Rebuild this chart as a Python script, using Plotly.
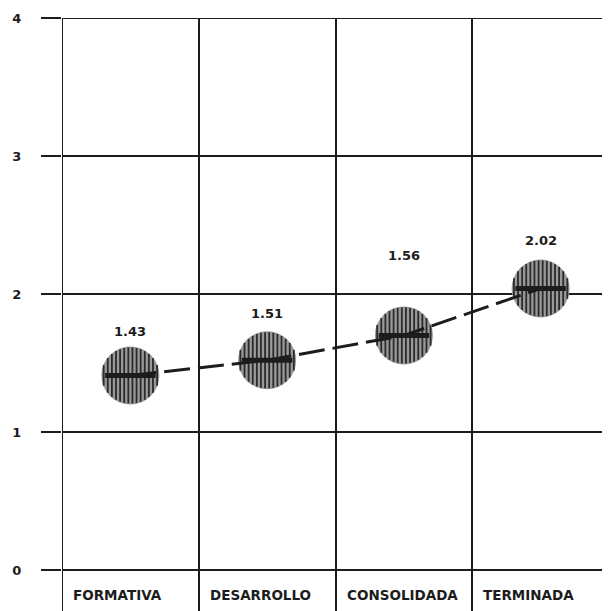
import numpy as np
import plotly.graph_objects as go

categories = ["FORMATIVA", "DESARROLLO", "CONSOLIDADA", "TERMINADA"]
values = [1.41, 1.52, 1.70, 2.04]
value_labels = ["1.43", "1.51", "1.56", "2.02"]
label_shift_px = [44, 47, 80, 48]
y_ticks = [0, 1, 2, 3, 4]

x_pos = [i + 0.5 for i in range(len(categories))]

INK = "#1c1c1c"
FONT = "DejaVu Sans"
radius = 0.21  # data units (~29 px)

fig = go.Figure()

# filled discs
fig.add_trace(go.Scatter(
    x=x_pos, y=values, mode="markers",
    marker=dict(symbol="circle", size=58, color="#999999", line=dict(width=0)),
    hoverinfo="skip", showlegend=False))

# vertical hatching inside discs
hx, hy = [], []
offsets = np.linspace(-radius * 0.93, radius * 0.93, 14)
for cx, cy in zip(x_pos, values):
    for dx in offsets:
        h = np.sqrt(max(radius ** 2 - dx ** 2, 0)) * 0.97
        hx += [cx + dx, cx + dx, None]
        hy += [cy - h, cy + h, None]
fig.add_trace(go.Scatter(
    x=hx, y=hy, mode="lines", line=dict(color="#2a2a2a", width=1.8),
    hoverinfo="skip", showlegend=False))

# dashed connecting line
fig.add_trace(go.Scatter(
    x=x_pos, y=values, mode="lines",
    line=dict(color=INK, width=3, dash="26px,8px"),
    hoverinfo="skip", showlegend=False))

# thick stroke through each disc
fig.add_trace(go.Scatter(
    x=x_pos, y=values, mode="markers",
    marker=dict(symbol="line-ew", size=36, line=dict(color=INK, width=5)),
    hoverinfo="skip", showlegend=False))

# value labels
for cx, cy, txt, sh in zip(x_pos, values, value_labels, label_shift_px):
    fig.add_annotation(x=cx, y=cy, text=txt, showarrow=False, yshift=sh,
                       font=dict(family=FONT, size=13, color=INK, weight="bold"))

# category labels inside the bottom strip, left-aligned in each column
for i, cat in enumerate(categories):
    fig.add_annotation(x=i, y=-0.18, text=cat, showarrow=False,
                       xanchor="left", xshift=9,
                       font=dict(family=FONT, size=13.5, color=INK, weight="bold"))

# frame lines at the range edges (top, left, right)
line_style = dict(color=INK, width=2)
fig.add_shape(type="line", xref="x", yref="y", x0=0, x1=4, y0=4, y1=4, line=line_style)
fig.add_shape(type="line", xref="x", yref="paper", x0=0, x1=0, y0=0, y1=1, line=line_style)
fig.add_shape(type="line", xref="x", yref="paper", x0=4, x1=4, y0=0, y1=1, line=line_style)

# page body has an 8px default margin: figure drawn at (8, 8)
fig.update_layout(
    width=602, height=603,
    margin=dict(l=54, r=1, t=10, b=0),
    paper_bgcolor="white", plot_bgcolor="white",
    showlegend=False,
    xaxis=dict(range=[0, 4], tickmode="array", tickvals=[0, 1, 2, 3, 4],
               showticklabels=False, ticks="", showgrid=True, gridcolor=INK,
               gridwidth=2, zeroline=False, showline=False, fixedrange=True,
               automargin=False),
    yaxis=dict(range=[-0.297, 4], tickmode="array", tickvals=y_ticks,
               ticktext=[str(t) for t in y_ticks], ticks="outside", ticklen=20,
               tickwidth=2, tickcolor=INK, showgrid=True, gridcolor=INK, gridwidth=2,
               zeroline=True, zerolinecolor=INK, zerolinewidth=2, showline=False,
               ticklabelstandoff=17, automargin=False,
               tickfont=dict(family=FONT, size=13, color=INK, weight="bold"),
               fixedrange=True),
)

fig.write_html("out.html")
